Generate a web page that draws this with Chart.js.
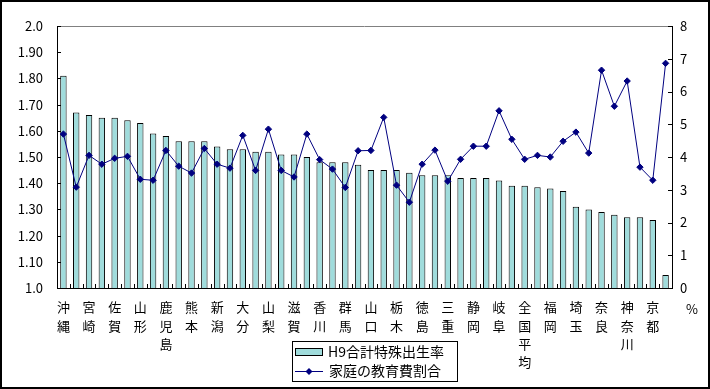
<!DOCTYPE html>
<html>
<head>
<meta charset="utf-8">
<script src="https://cdn.jsdelivr.net/npm/chart.js@4/dist/chart.umd.min.js"></script>
<style>
  html, body { margin: 0; padding: 0; background: #fff; }
  #wrap { width: 710px; height: 389px; }
</style>
</head>
<body>
<div id="wrap"><canvas id="chart" width="710" height="389"></canvas></div>
<script>
// prefectures sorted by H9 total fertility rate (every other one is labelled)
const prefectures = [
  "沖縄", "福島", "宮崎", "島根", "佐賀", "長崎", "山形", "鳥取",
  "鹿児島", "岩手", "熊本", "福井", "新潟", "長野", "大分", "秋田",
  "山梨", "青森", "滋賀", "富山", "香川", "愛媛", "群馬", "茨城",
  "山口", "岡山", "栃木", "石川", "徳島", "和歌山", "三重", "高知",
  "静岡", "広島", "岐阜", "愛知", "全国平均", "宮城", "福岡", "兵庫",
  "埼玉", "大阪", "奈良", "千葉", "神奈川", "北海道", "京都", "東京"
];

// H9合計特殊出生率 (left axis)
const fertility = [
  1.81, 1.67, 1.66, 1.65, 1.65, 1.64, 1.63, 1.59,
  1.58, 1.56, 1.56, 1.56, 1.54, 1.53, 1.53, 1.52,
  1.52, 1.51, 1.51, 1.50, 1.48, 1.48, 1.48, 1.47,
  1.45, 1.45, 1.45, 1.44, 1.43, 1.43, 1.43, 1.42,
  1.42, 1.42, 1.41, 1.39, 1.39, 1.385, 1.38, 1.37,
  1.31, 1.30, 1.29, 1.28, 1.27, 1.27, 1.26, 1.05
];

// 家庭の教育費割合 % (right axis)
const eduShare = [
  4.70, 3.08, 4.05, 3.78, 3.96, 4.02, 3.32, 3.29,
  4.20, 3.72, 3.51, 4.26, 3.78, 3.66, 4.66, 3.59,
  4.85, 3.59, 3.39, 4.70, 3.92, 3.63, 3.07, 4.19,
  4.20, 5.21, 3.14, 2.62, 3.78, 4.21, 3.26, 3.93,
  4.33, 4.33, 5.41, 4.54, 3.93, 4.05, 4.00, 4.48,
  4.76, 4.12, 6.65, 5.55, 6.32, 3.69, 3.29, 6.86
];

const leftTickValues = [1.0, 1.1, 1.2, 1.3, 1.4, 1.5, 1.6, 1.7, 1.8, 1.9, 2.0];
const leftTickLabels = ["1.0", "1.10", "1.20", "1.30", "1.40", "1.50", "1.60", "1.70", "1.80", "1.90", "2.0"];
const rightTickValues = [0, 1, 2, 3, 4, 5, 6, 7, 8];

const barColor = "#A0DCDC";
const lineColor = "#000080";
const jpFont = "'Noto Sans CJK JP', 'Noto Sans', sans-serif";

Chart.defaults.color = "#000";
Chart.defaults.font.family = jpFont;

// frame, inside tick marks, gray top line, legend and % label
const decorPlugin = {
  id: "decor",
  afterDraw(chart) {
    const ctx = chart.ctx;
    const area = chart.chartArea;
    const x = chart.scales.x, y = chart.scales.y, y1 = chart.scales.y1;
    ctx.save();
    ctx.lineWidth = 1;

    // gray top edge of plot area
    ctx.strokeStyle = "#808080";
    ctx.beginPath();
    ctx.moveTo(area.left, area.top + 0.5);
    ctx.lineTo(area.right, area.top + 0.5);
    ctx.stroke();

    // inside ticks
    ctx.strokeStyle = "#000";
    ctx.beginPath();
    y.ticks.forEach((t, i) => {
      const py = Math.round(y.getPixelForTick(i)) + 0.5;
      ctx.moveTo(area.left, py);
      ctx.lineTo(area.left + 4, py);
    });
    y1.ticks.forEach((t, i) => {
      const py = Math.round(y1.getPixelForTick(i)) + 0.5;
      ctx.moveTo(area.right - 4, py);
      ctx.lineTo(area.right, py);
    });
    const n = prefectures.length;
    const w = (area.right - area.left) / n;
    for (let i = 0; i <= n; i++) {
      const px = Math.round(area.left + i * w) + 0.5;
      ctx.moveTo(px, area.bottom);
      ctx.lineTo(px, area.bottom - 4);
    }
    ctx.stroke();

    // % unit under the right axis
    ctx.fillStyle = "#000";
    ctx.font = "13px " + jpFont;
    ctx.textAlign = "center";
    ctx.textBaseline = "middle";
    ctx.fillText("%", 692, 309);

    // legend box
    const ds = chart.data.datasets;
    ctx.strokeStyle = "#000";
    ctx.strokeRect(292.5, 341.5, 165, 40);
    ctx.fillStyle = barColor;
    ctx.fillRect(295.5, 348.5, 27, 7);
    ctx.strokeRect(295.5, 348.5, 27, 7);
    ctx.strokeStyle = lineColor;
    ctx.beginPath();
    ctx.moveTo(295, 371.5);
    ctx.lineTo(323, 371.5);
    ctx.stroke();
    ctx.fillStyle = lineColor;
    ctx.beginPath();
    ctx.moveTo(309, 368);
    ctx.lineTo(312.5, 371.5);
    ctx.lineTo(309, 375);
    ctx.lineTo(305.5, 371.5);
    ctx.closePath();
    ctx.fill();
    ctx.fillStyle = "#000";
    ctx.font = "14px " + jpFont;
    ctx.textAlign = "left";
    ctx.fillText(ds[1].label, 328, 352);
    ctx.fillText(ds[0].label, 329, 371);

    // outer frame
    ctx.strokeStyle = "#000";
    ctx.lineWidth = 2;
    ctx.strokeRect(1, 1, 708, 387);
    ctx.restore();
  }
};

new Chart(document.getElementById("chart"), {
  data: {
    labels: prefectures,
    datasets: [
      {
        type: "line",
        label: "家庭の教育費割合",
        data: eduShare,
        yAxisID: "y1",
        order: 0,
        borderColor: lineColor,
        backgroundColor: lineColor,
        borderWidth: 1,
        tension: 0,
        pointStyle: "rectRot",
        pointRadius: 3.2,
        pointBorderWidth: 1
      },
      {
        type: "bar",
        label: "H9合計特殊出生率",
        data: fertility,
        yAxisID: "y",
        order: 1,
        backgroundColor: barColor,
        borderColor: "#000",
        borderWidth: 1,
        barPercentage: 0.5,
        categoryPercentage: 1.0
      }
    ]
  },
  options: {
    responsive: false,
    animation: false,
    layout: { padding: { left: 0, right: 0, top: 26, bottom: 0 } },
    plugins: {
      legend: { display: false },
      tooltip: { enabled: false }
    },
    scales: {
      x: {
        offset: true,
        grid: { display: false, drawTicks: false },
        border: { display: true, color: "#000", width: 1 },
        afterFit: (s) => { s.height = 101; },
        ticks: {
          autoSkip: false,
          maxRotation: 0,
          minRotation: 0,
          padding: 10,
          font: { size: 13, lineHeight: "18.4px" },
          callback: (v, i) => (i % 2 === 0 ? Array.from(prefectures[i]) : "")
        }
      },
      y: {
        position: "left",
        min: 1,
        max: 2,
        grid: { display: false, drawTicks: false },
        border: { display: true, color: "#000", width: 1 },
        afterFit: (s) => { s.width = 57; },
        afterBuildTicks: (s) => { s.ticks = leftTickValues.map(v => ({ value: v })); },
        ticks: {
          padding: 14,
          font: { size: 13 },
          callback: (v, i) => leftTickLabels[i]
        }
      },
      y1: {
        position: "right",
        min: 0,
        max: 8,
        grid: { display: false, drawTicks: false },
        border: { display: true, color: "#000", width: 1 },
        afterFit: (s) => { s.width = 38; },
        afterBuildTicks: (s) => { s.ticks = rightTickValues.map(v => ({ value: v })); },
        ticks: {
          padding: 8,
          font: { size: 13 }
        }
      }
    }
  },
  plugins: [decorPlugin]
});
</script>
</body>
</html>
